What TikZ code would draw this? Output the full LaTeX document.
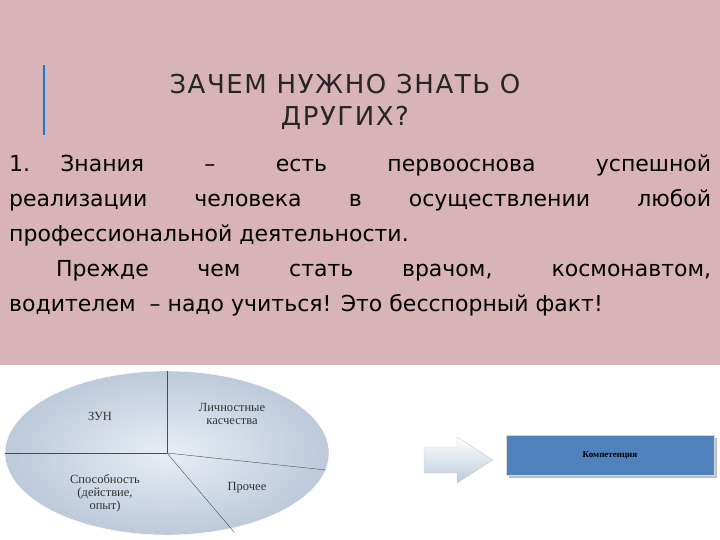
\documentclass[tikz,border=0pt]{standalone}
\usepackage{fontspec}
\setmainfont{DejaVu Sans}
\newfontfamily\serf{Liberation Serif}
\usetikzlibrary{shadows}
\definecolor{pinkbg}{HTML}{D8B3B8}
\definecolor{pieblue}{HTML}{C4D2E4}
\definecolor{boxblue}{HTML}{4F81BD}
\begin{document}
\begin{tikzpicture}[x=1pt,y=-1pt,
  lbl/.style={font=\serf\fontsize{12.5}{13}\selectfont,align=center,text=black!80}]
\useasboundingbox (0,0) rectangle (720,540);
\fill[pinkbg] (0,0) rectangle (720,365);
\fill[white] (0,365) rectangle (720,540);
\fill[cyan!60!blue] (43,65) rectangle (45,135);
\node[font=\addfontfeature{LetterSpace=6}\fontsize{26}{32}\selectfont,align=center,text=black!85] (title) at (345,102) {ЗАЧЕМ НУЖНО ЗНАТЬ О\\ДРУГИХ?};
\node[font=\fontsize{22}{35}\selectfont,text width=702pt,align=justify,anchor=north west,inner sep=0pt] (body) at (9,155)
{1.\ Знания \ – \ есть \ первооснова \ успешной\linebreak реализации человека в осуществлении любой\linebreak профессиональной деятельности.\par
\hspace*{47pt}Прежде чем стать врачом, космонавтом,\linebreak водителем \ – надо учиться! Это бесспорный факт!};
% pie
\shade[inner color=pieblue!40,outer color=pieblue!90!gray,draw=white] (167,453) ellipse (162 and 82);
\coordinate (c) at (167,453);
\draw[black!70] (c) -- (167,371);
\draw[black!70] (c) -- (5,453);
\draw[black!70] (c) -- (326,470);
\draw[black!70] (c) -- (234,532);
\node[lbl] (zun) at (100,416) {ЗУН};
\node[lbl] (lk) at (232,414) {Личностные\\касчества};
\node[lbl] (sp) at (105,493) {Способность\\(действие,\\опыт)};
\node[lbl] (pr) at (247,488) {Прочее};
\shade[top color=white,bottom color=pieblue!90!gray,draw=gray!40]
  (424,447) -- (457,447) -- (457,437) -- (493,460) -- (457,483) -- (457,473) -- (424,473) -- cycle;
\node[fill=boxblue,minimum width=208pt,minimum height=40pt,draw=gray!30,drop shadow,font=\serf\bfseries\fontsize{9}{10}\selectfont] (komp) at (610,455) {Компетенция};
\end{tikzpicture}
\end{document}
